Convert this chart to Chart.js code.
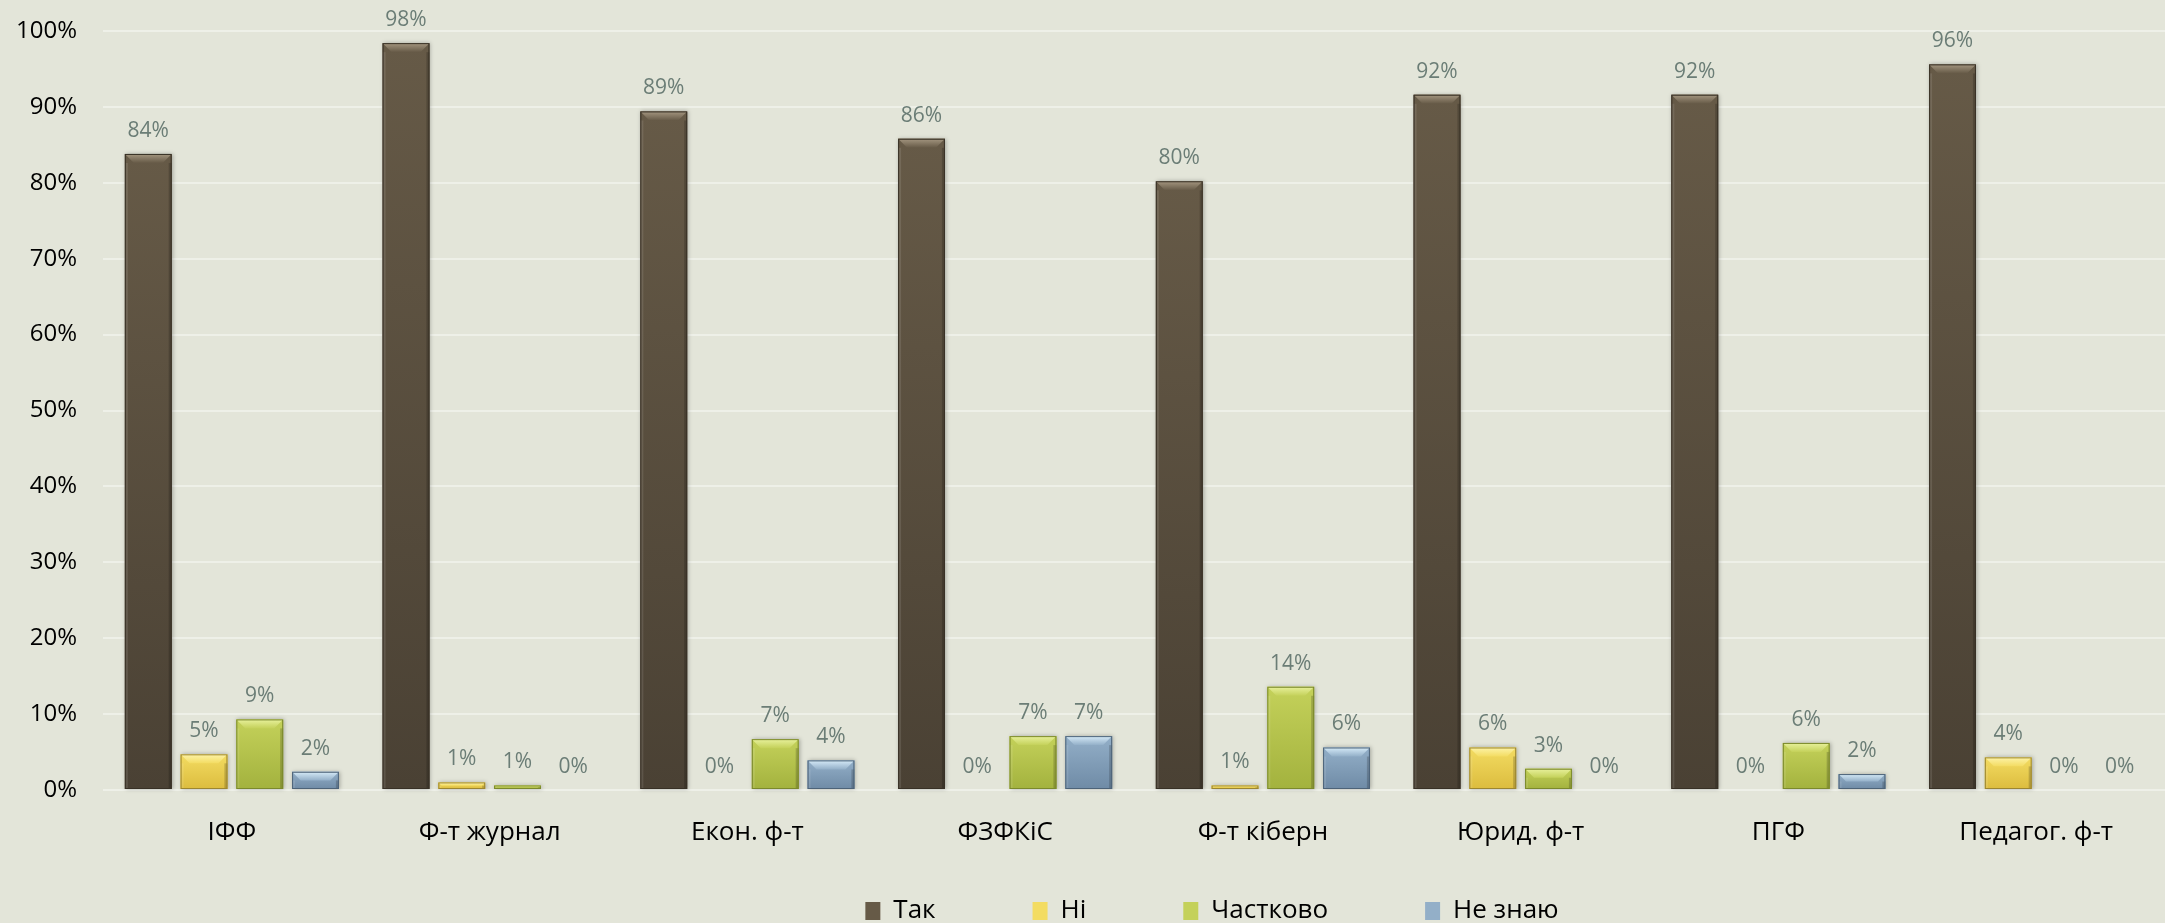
<!DOCTYPE html>
<html>
<head>
<meta charset="utf-8">
<script src="https://cdn.jsdelivr.net/npm/chart.js@4"></script>
<style>
    html, body { margin: 0; padding: 0; background: #e3e5d9; overflow: hidden; }
    #chartHolder { width: 2165px; height: 923px; }
</style>
</head>
<body>
<div id="chartHolder"><canvas id="surveyChart" width="2165" height="923"></canvas></div>
<script>
// Survey answers by faculty, in percent
const faculties = ['ІФФ', 'Ф-т журнал', 'Екон. ф-т', 'ФЗФКіС', 'Ф-т кіберн', 'Юрид. ф-т', 'ПГФ', 'Педагог. ф-т'];
const seriesNames = ['Так', 'Ні', 'Частково', 'Не знаю'];
const yesValues = [83.8, 98.4, 89.4, 85.8, 80.2, 91.6, 91.6, 95.6];
const noValues = [4.7, 1.0, 0, 0, 0.6, 5.6, 0, 4.3];
const partlyValues = [9.3, 0.6, 6.7, 7.1, 13.6, 2.8, 6.2, 0];
const dontKnowValues = [2.4, 0, 3.9, 7.1, 5.6, 0, 2.1, 0];
const yTickValues = [0, 10, 20, 30, 40, 50, 60, 70, 80, 90, 100];

// Colours for each series: face top / face bottom / bevel highlight / outline
const seriesStyles = [
    { top: '#665a47', bottom: '#4a4134', hi: '#a49680', line: '#383126' },
    { top: '#f3dc62', bottom: '#dcbc3e', hi: '#fdf3a8', line: '#9c8630' },
    { top: '#c4d15a', bottom: '#a3b23e', hi: '#e8f19c', line: '#7b892c' },
    { top: '#93afc8', bottom: '#6f8ba6', hi: '#d6ebf8', line: '#4d6378' }
];

const FONT = "'Open Sans', 'DejaVu Sans', sans-serif";


// Draws the Excel-like bevel over every bar
const bevelPlugin = {
    id: 'bevel',
    afterDatasetsDraw(chart) {
        const ctx = chart.ctx;
        chart.data.datasets.forEach((ds, di) => {
            const style = seriesStyles[di];
            chart.getDatasetMeta(di).data.forEach(bar => {
                const p = bar.getProps(['x', 'y', 'base', 'width'], true);
                const h = p.base - p.y;
                if (h < 0.5) return;
                const l = p.x - p.width / 2, r = p.x + p.width / 2, t = p.y, b = p.base;
                const bv = Math.min(9, h / 2, p.width / 2);

                // face with soft shadow on the right
                ctx.save();
                ctx.shadowColor = 'rgba(0,0,0,0.28)';
                ctx.shadowBlur = 4;
                ctx.shadowOffsetX = 1;
                const g = ctx.createLinearGradient(0, t, 0, b);
                g.addColorStop(0, style.top);
                g.addColorStop(1, style.bottom);
                ctx.fillStyle = g;
                ctx.fillRect(l, t, p.width, h);
                ctx.restore();

                // top bevel
                const gt = ctx.createLinearGradient(0, t, 0, t + bv);
                gt.addColorStop(0, style.hi);
                gt.addColorStop(1, style.top);
                ctx.fillStyle = gt;
                ctx.beginPath();
                ctx.moveTo(l, t);
                ctx.lineTo(r, t);
                ctx.lineTo(r - bv, t + bv);
                ctx.lineTo(l + bv, t + bv);
                ctx.closePath();
                ctx.fill();

                // narrow side edges
                const side = Math.min(3, p.width / 6);
                ctx.fillStyle = 'rgba(255,255,255,0.10)';
                ctx.fillRect(l, t + bv, side, h - bv);
                ctx.fillStyle = 'rgba(0,0,0,0.18)';
                ctx.fillRect(r - side, t + bv, side, h - bv);

                ctx.strokeStyle = style.line;
                ctx.lineWidth = 1;
                ctx.strokeRect(l + 0.5, t + 0.5, p.width - 1, h - 1);
            });
        });
    }
};

// Value labels above bars
const valueLabelPlugin = {
    id: 'valueLabels',
    afterDatasetsDraw(chart) {
        const ctx = chart.ctx;
        ctx.save();
        ctx.font = '21px ' + FONT;
        ctx.fillStyle = '#6b7d76';
        ctx.textAlign = 'center';
        ctx.textBaseline = 'alphabetic';
        chart.data.datasets.forEach((ds, di) => {
            chart.getDatasetMeta(di).data.forEach((bar, i) => {
                const p = bar.getProps(['x', 'y'], true);
                ctx.fillText(Math.round(ds.data[i]) + '%', p.x, p.y - 17);
            });
        });
        ctx.restore();
    }
};

// Moves the legend to where Excel placed it
const legendPlacePlugin = {
    id: 'legendPlace',
    afterLayout(chart) {
        const lg = chart.legend;
        const shiftX = 125;
        lg.left += shiftX;
        lg.right += shiftX;
        lg.top = chart.height - 25 - lg.options.labels.padding;
    }
};


function buildChart() {
    const valueSets = [yesValues, noValues, partlyValues, dontKnowValues];
    const datasets = valueSets.map((vals, i) => ({
        label: seriesNames[i],
        data: vals,
        backgroundColor: seriesStyles[i].top,
        borderWidth: 0,
        categoryPercentage: 0.865,
        barPercentage: 0.84
    }));

    const config = {
        type: 'bar',
        data: { labels: faculties, datasets: datasets },
        options: {
            responsive: false,
            animation: false,
            layout: { padding: { top: 31, right: -9, bottom: 0, left: 0 } },
            scales: {
                x: {
                    grid: { display: false, drawTicks: false },
                    border: { display: false },
                    ticks: { color: '#000', padding: 27, font: { family: FONT, size: 26 } },
                    afterFit: s => { s.height = 89; }
                },
                y: {
                    min: 0,
                    max: 100,
                    afterBuildTicks: s => { s.ticks = yTickValues.map(v => ({ value: v })); },
                    grid: { color: '#eef0e8', lineWidth: 2, drawTicks: false },
                    border: { display: false },
                    ticks: {
                        color: '#000',
                        padding: 26,
                        font: { family: FONT, size: 24 },
                        callback: v => v + '%'
                    },
                    afterFit: s => {
                        s.width = 103;
                        s.paddingTop = 0;
                        s.paddingBottom = 0;
                    }
                }
            },
            plugins: {
                legend: {
                    position: 'bottom',
                    maxHeight: 44,
                    labels: {
                        color: '#000',
                        boxWidth: 15,
                        boxHeight: 18,
                        padding: 97,
                        font: { family: FONT, size: 26 }
                    }
                },
                tooltip: { enabled: false }
            }
        },
        plugins: [bevelPlugin, valueLabelPlugin, legendPlacePlugin]
    };

    new Chart(document.getElementById('surveyChart').getContext('2d'), config);
}

buildChart();
</script>
</body>
</html>
